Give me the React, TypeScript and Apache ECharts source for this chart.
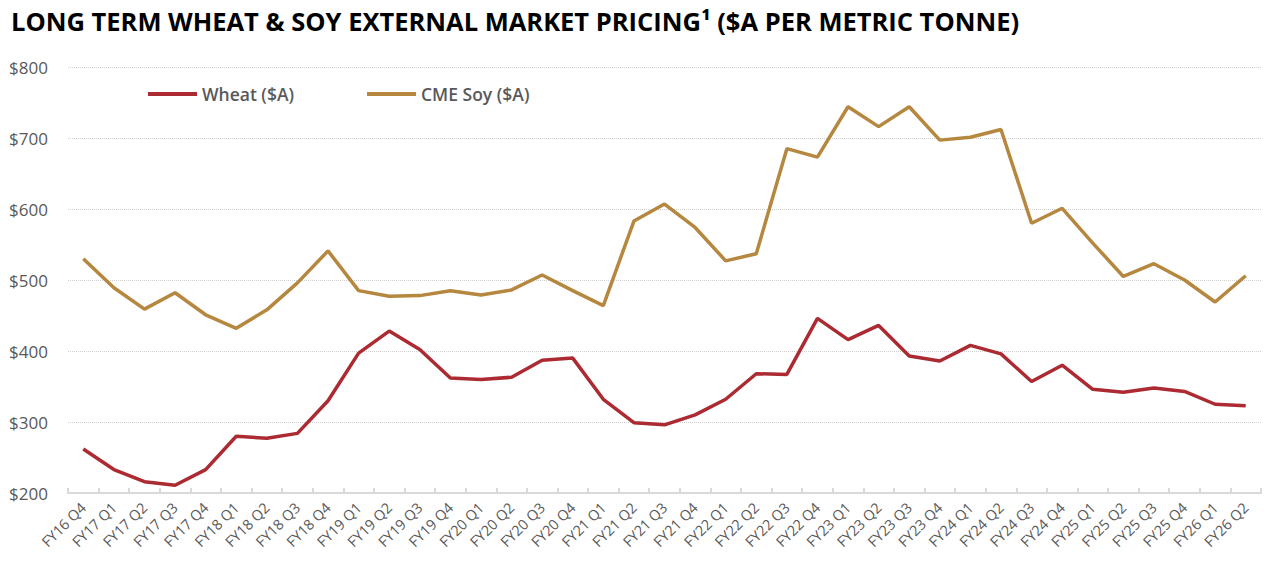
import { useEffect, useRef } from 'react';
import * as echarts from 'echarts';

const quarters = [
  'FY16 Q4',
  'FY17 Q1', 'FY17 Q2', 'FY17 Q3', 'FY17 Q4',
  'FY18 Q1', 'FY18 Q2', 'FY18 Q3', 'FY18 Q4',
  'FY19 Q1', 'FY19 Q2', 'FY19 Q3', 'FY19 Q4',
  'FY20 Q1', 'FY20 Q2', 'FY20 Q3', 'FY20 Q4',
  'FY21 Q1', 'FY21 Q2', 'FY21 Q3', 'FY21 Q4',
  'FY22 Q1', 'FY22 Q2', 'FY22 Q3', 'FY22 Q4',
  'FY23 Q1', 'FY23 Q2', 'FY23 Q3', 'FY23 Q4',
  'FY24 Q1', 'FY24 Q2', 'FY24 Q3', 'FY24 Q4',
  'FY25 Q1', 'FY25 Q2', 'FY25 Q3', 'FY25 Q4',
  'FY26 Q1', 'FY26 Q2',
];

const wheat = [
  262,
  233, 216, 211, 233,
  280, 277, 284, 330,
  397, 428, 402, 362,
  360, 363, 387, 390,
  332, 299, 296, 310,
  332, 368, 367, 446,
  416, 436, 393, 386,
  408, 396, 357, 380,
  346, 342, 348, 343,
  325, 323,
];

const soy = [
  530,
  489, 459, 482, 451,
  432, 458, 496, 541,
  485, 477, 478, 485,
  479, 486, 507, 485,
  464, 583, 607, 574,
  527, 537, 685, 673,
  744, 716, 744, 697,
  701, 712, 580, 601,
  552, 505, 523, 500,
  469, 506,
];

const TEXT = '#595959';
const FONT = 'Open Sans, Lato, sans-serif';

export default function App() {
  const chartRef = useRef<HTMLDivElement>(null);

  useEffect(() => {
    document.body.style.margin = '0';
    if (!chartRef.current) return;
    const chart = echarts.init(chartRef.current, undefined, { renderer: 'svg' });

    chart.setOption({
      animation: false,
      backgroundColor: '#ffffff',
      textStyle: { fontFamily: FONT },
      title: {
        text: 'LONG TERM WHEAT & SOY EXTERNAL MARKET PRICING¹ ($A PER METRIC TONNE)',
        left: 6,
        top: 3,
        textStyle: { color: '#000000', fontSize: 25.5, fontWeight: 700, fontFamily: FONT },
      },
      legend: {
        left: 143,
        top: 80,
        itemWidth: 49,
        itemHeight: 4,
        itemGap: 73,
        icon: 'rect',
        textStyle: { color: TEXT, fontSize: 17.5, fontWeight: 600, fontFamily: FONT },
        data: ['Wheat ($A)', 'CME Soy ($A)'],
      },
      grid: { left: 68, right: 26, top: 67, bottom: 79 },
      xAxis: {
        type: 'category',
        data: quarters,
        boundaryGap: true,
        axisLine: { lineStyle: { color: '#d9d9d9', width: 2 } },
        axisTick: { show: true, inside: true, length: 5, lineStyle: { color: '#d9d9d9', width: 2 } },
        axisLabel: { color: TEXT, fontSize: 14.5, rotate: 45, interval: 0, margin: 12, fontFamily: FONT },
      },
      yAxis: {
        type: 'value',
        min: 200,
        max: 800,
        interval: 100,
        axisLine: { show: false },
        axisTick: { show: false },
        splitLine: { lineStyle: { color: '#d0d0d0', type: 'dotted', width: 1 } },
        axisLabel: {
          color: TEXT,
          fontSize: 17,
          margin: 20,
          fontFamily: FONT,
          formatter: (v: number) => '$' + v,
        },
      },
      series: [
        {
          name: 'Wheat ($A)',
          type: 'line',
          data: wheat,
          symbol: 'none',
          color: '#AC2A31',
          lineStyle: { width: 3.5, color: '#AC2A31' },
        },
        {
          name: 'CME Soy ($A)',
          type: 'line',
          data: soy,
          symbol: 'none',
          color: '#B5873F',
          lineStyle: { width: 3.5, color: '#B5873F' },
        },
      ],
    });

    return () => chart.dispose();
  }, []);

  return <div ref={chartRef} style={{ width: '1287px', height: '572px' }} />;
}
